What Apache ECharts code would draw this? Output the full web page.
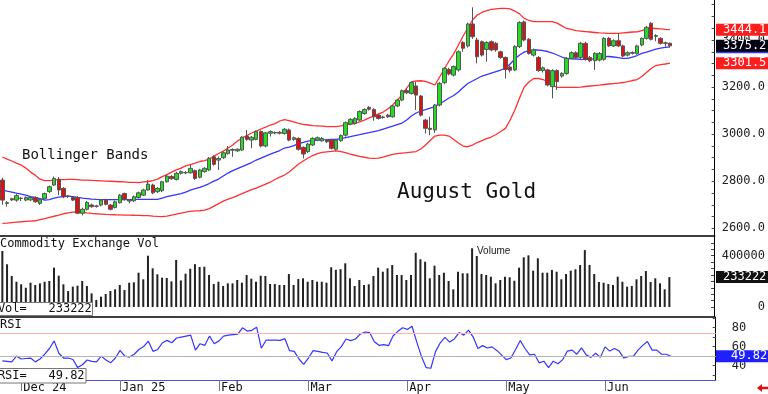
<!DOCTYPE html>
<html><head><meta charset="utf-8">
<script src="https://cdn.jsdelivr.net/npm/echarts@6/dist/echarts.min.js"></script>
<style>html,body{margin:0;padding:0;background:#fff;overflow:hidden}#c{width:768px;height:394px}</style>
</head><body><div id="c"></div>
<script>
// ---------- data ----------
const opens=[2805,2706,2726,2720,2727,2720,2721,2731,2706,2727,2756,2784,2809,2770,2735,2731,2731,2664,2681,2699,2694,2699,2720,2699,2689,2709,2748,2716,2717,2731,2741,2763,2784,2756,2760,2798,2820,2808,2834,2837,2836,2845,2817,2841,2848,2904,2890,2900,2918,2935,2929,2933,2992,2975,2978,3011,2950,3004,3005,3008,3003,3018,2978,2982,2944,2926,2954,2975,2972,2975,2975,2936,2972,2996,3043,3046,3060,3088,3114,3105,3081,3073,3081,3074,3120,3145,3185,3173,3205,3162,3060,3025,3018,3124,3219,3275,3251,3273,3389,3375,3468,3400,3393,3360,3393,3386,3350,3326,3285,3273,3372,3477,3403,3336,3326,3270,3273,3202,3270,3247,3258,3322,3346,3326,3386,3326,3312,3315,3318,3407,3375,3397,3375,3336,3347,3343,3379,3407,3471,3416,3407,3388,3386];
const highs=[2815,2716,2730,2746,2733,2736,2737,2736,2727,2752,2782,2820,2818,2775,2742,2735,2737,2688,2716,2705,2700,2724,2726,2703,2718,2746,2752,2725,2740,2756,2768,2805,2790,2775,2802,2828,2826,2840,2846,2843,2869,2850,2853,2860,2903,2910,2905,2926,2950,2940,2940,2992,3018,2992,3016,3016,3010,3016,3012,3013,3026,3024,2990,2987,2948,2963,2987,2990,2988,2980,2980,2980,2999,3054,3068,3072,3101,3110,3119,3110,3086,3078,3086,3124,3150,3190,3195,3225,3222,3167,3065,3074,3128,3222,3285,3282,3292,3356,3395,3474,3539,3410,3398,3395,3398,3392,3355,3330,3292,3378,3480,3483,3408,3364,3332,3288,3278,3276,3275,3264,3328,3352,3352,3392,3392,3332,3348,3349,3412,3413,3403,3428,3380,3352,3352,3380,3412,3460,3476,3425,3412,3393,3390];
const lows=[2700,2692,2716,2713,2716,2715,2716,2708,2699,2723,2750,2780,2741,2728,2729,2716,2660,2655,2676,2688,2688,2694,2698,2676,2684,2705,2718,2706,2712,2727,2737,2760,2745,2750,2754,2794,2806,2803,2828,2830,2832,2806,2812,2836,2843,2866,2848,2895,2913,2904,2925,2928,2972,2940,2974,2944,2944,2990,3000,2999,2998,2970,2972,2930,2897,2920,2950,2970,2968,2963,2935,2930,2968,2990,3038,3040,3055,3083,3100,3057,3062,3066,3069,3070,3115,3140,3170,3168,3103,3075,3003,2996,3006,3118,3212,3250,3245,3266,3350,3368,3405,3301,3330,3308,3352,3350,3320,3237,3262,3268,3366,3394,3338,3330,3265,3262,3203,3152,3188,3240,3252,3318,3320,3320,3312,3306,3273,3309,3312,3370,3370,3370,3327,3330,3338,3338,3374,3402,3398,3395,3380,3372,3368];
const closes=[2720,2709,2721,2739,2728,2731,2731,2713,2723,2748,2777,2812,2763,2734,2737,2720,2664,2681,2710,2692,2695,2720,2702,2681,2713,2741,2723,2720,2734,2751,2763,2788,2751,2770,2798,2822,2811,2834,2841,2836,2855,2812,2848,2855,2897,2872,2897,2921,2933,2932,2936,2987,2978,2987,3011,2950,3006,3011,3007,3004,3021,2975,2985,2936,2916,2958,2982,2985,2982,2968,2940,2975,2994,3049,3063,3067,3096,3105,3106,3074,3067,3071,3074,3120,3145,3185,3176,3219,3166,3081,3025,3020,3124,3216,3280,3256,3287,3350,3365,3468,3414,3329,3336,3389,3358,3358,3326,3275,3272,3372,3474,3400,3343,3358,3270,3282,3209,3270,3223,3258,3322,3346,3326,3386,3318,3312,3343,3343,3407,3375,3397,3375,3332,3346,3344,3375,3407,3454,3403,3419,3386,3386,3375.2];
const volumes=[436600,333000,241700,197000,177000,150000,189500,171500,184500,197000,202700,306700,244000,177000,124800,158500,166000,202700,163700,106500,54600,80600,101000,124800,137700,171500,132500,189500,192300,267600,216000,400000,301500,255000,228700,226000,200000,366500,207000,260000,298000,334000,312000,314000,249500,179000,197000,163700,184500,184500,210500,189500,249500,220700,197000,244000,241700,179000,179000,171500,171500,257000,171500,218000,223600,197000,210500,197000,197000,189500,309500,290000,295000,340700,223600,163700,210500,171500,177000,241700,306700,275000,301500,327500,249500,249500,210500,249500,423000,372000,353000,223600,322000,249500,267400,202700,138000,275000,262800,262800,457700,397600,257000,249500,236000,184500,210500,236000,231600,205000,306700,387500,403000,283000,379700,267400,267400,288500,275000,216000,257000,283000,294000,327500,444000,327500,257000,195000,189500,179000,171500,236000,197000,158500,163700,216000,241700,280700,195000,223600,184500,138000,233222];
const rsiValues=[45,44.5,44,50,47,47.5,48,44,47,52,58,66,53,48,48,46.5,38,41,46,44.5,44,50,46,43,48,56,50,49,52,57,60,65.7,55,57,64,66.5,64,69,70,71,72,56.3,63,61.3,71,63,66,71,72,72.5,73,79.7,76.3,77,80.3,58.3,66.7,66.7,66.7,66.5,68.3,55.7,55,47,41.3,48,55.7,55,54,53.3,45,54.7,60,68,66.3,68,73,75.3,74.7,65,61.3,62,61,71.3,76,79.7,78,81.3,65,49.7,38,37.3,54.7,64,69.7,64.7,68,74.7,72,77.3,70,58,61,58.5,59.7,56,51.3,46.3,48,57,66.3,58,51.3,52,43,44.7,38,44.7,42,46.3,55.3,56.3,52,58.7,51.3,48.7,53,48.7,59.7,55.3,58,55.3,48,49.7,49.7,56.3,61.3,65.3,56.3,56.3,52,52,49.82];
const bbUpper=[2903,2894,2886,2877,2869,2856,2839,2826,2809,2803,2803,2805,2807,2807,2808,2808,2807,2805,2805,2804,2803,2802,2801,2800,2799,2798,2797,2795,2795,2794,2797,2799,2803,2809,2820,2828,2839,2848,2856,2865,2871,2877,2884,2888,2894,2907,2918,2928,2941,2954,2971,2984,2994,3005,3013,3022,3030,3039,3045,3056,3062,3058,3052,3046,3042,3039,3036,3035,3034,3032,3032,3032,3035,3039,3043,3046,3052,3060,3069,3077,3086,3094,3107,3124,3145,3166,3196,3222,3226,3227,3224,3217,3209,3243,3277,3311,3341,3379,3417,3451,3485,3506,3517,3525,3530,3532,3534,3534,3532,3523,3511,3492,3483,3478,3478,3478,3478,3478,3472,3460,3449,3445,3440,3438,3436,3434,3432,3430,3429,3428,3428,3428,3430,3432,3434,3435,3440,3447,3450,3449,3447,3445,3444.1];
const bbMid=[2762.7,2758.4,2754.2,2749.9,2745.7,2741.4,2735,2731.7,2726.6,2720.2,2722.3,2728.7,2733,2736,2737.2,2735,2731.7,2728.7,2726.6,2724.5,2723.2,2722.3,2722.3,2722.3,2722.3,2722.3,2722.3,2722.3,2722.7,2723.2,2723.2,2723.2,2723.2,2723.2,2728.7,2734.3,2739.3,2743.6,2747.8,2754.2,2762.7,2769,2774.2,2781.8,2790.3,2800.9,2809.4,2822.2,2834.9,2845.5,2854,2862.5,2871,2879.5,2890.2,2898.7,2907.2,2915.7,2922.9,2930.5,2941.1,2945.4,2951.8,2960.3,2965.4,2970.9,2973.9,2975.1,2976,2976.8,2977.7,2978.1,2981.5,2985.8,2990,2994.3,2998.5,3002.8,3007,3011.3,3015.5,3021.9,3028.3,3034.6,3041,3047.4,3060.1,3077.1,3089.9,3098.4,3104.7,3111.1,3117.5,3128.1,3140.9,3153.6,3164.2,3179.1,3198.2,3215.2,3225.8,3236.5,3247.1,3253.5,3259.8,3266.2,3272.6,3279.8,3298.1,3319.3,3336.3,3349,3355.4,3357.5,3357.5,3355.4,3351.2,3344.8,3336.3,3327.8,3322.3,3320.2,3319.3,3318,3318,3318,3321.4,3325.7,3329.1,3330,3327.8,3324.8,3322.3,3322.3,3327.8,3334.2,3343.5,3349,3355.4,3361.8,3366,3368.5,3371];
const bbLower=[2621.2,2622.5,2624.6,2626.7,2628,2629.7,2631,2632.2,2637.3,2641.6,2646.7,2651.4,2656.5,2662,2665.8,2669.2,2670.5,2668.4,2665.8,2663.7,2662,2660.7,2659.4,2658.6,2657.7,2657.3,2656.5,2656.5,2655.6,2655.2,2654.3,2653.9,2652.2,2650.9,2650.1,2652.2,2656.5,2660.7,2664.9,2669.2,2672.2,2674.3,2674.7,2677.7,2684.1,2694.7,2705.3,2715.9,2724.5,2730.8,2739.3,2747.8,2756.3,2764.8,2771.2,2779.7,2788.2,2796.7,2807.3,2817.9,2826.4,2839.2,2856.2,2873.2,2885.9,2898.7,2909.3,2917.8,2922.9,2925,2927.1,2929.3,2926.3,2922,2915.7,2910.5,2905.9,2902,2898.7,2897.4,2898.7,2902.9,2909.3,2914.4,2917.8,2919.9,2922,2924.2,2926.3,2936.9,2953.9,2973,2992.1,2996.4,2996.4,2992.1,2977.3,2962.4,2949.6,2946.7,2953.9,2964.5,2973,2980.7,2987.9,2998.5,3011.3,3024.8,3060.1,3102.6,3153.6,3200.3,3221.6,3236.5,3236.5,3232.2,3221.6,3208.8,3199.1,3199.1,3199.1,3199.1,3199.1,3200.3,3202.5,3204.6,3206.7,3208.8,3211,3213.1,3215.2,3216.5,3219.5,3223.7,3228,3232.2,3245,3262,3279,3291.7,3295.9,3298.1,3301.5];
const priceTicks=[2600,2800,3000,3200,3400];
const volTicks=[0,400000];
const rsiTicks=[40,60,80];
const rsiLevels=[74,50];
const monthNames=['Jan','Feb','Mar','Apr','May','Jun','Jul','Aug','Sep','Oct','Nov','Dec'];
const firstDate='2024-11-25';
const holidays=['2024-11-28','2024-12-25','2025-01-01','2025-01-20','2025-02-17','2025-04-18','2025-05-26','2025-06-19','2025-07-04'];
const SLOTS=152;

// ---------- categories (trading days) ----------
const dates=[];
(function(){
  const d=new Date(firstDate+'T12:00:00Z');
  while(dates.length<SLOTS){
    const s=d.toISOString().slice(0,10);
    const wd=d.getUTCDay();
    if(wd!==0&&wd!==6&&holidays.indexOf(s)<0) dates.push(s);
    d.setUTCDate(d.getUTCDate()+1);
  }
})();
const N=closes.length;
function isMonthStart(i){
  if(i<=0||i>=N) return false;
  return dates[i].slice(0,7)!==dates[i-1].slice(0,7);
}
const candleData=opens.map((o,i)=>[o,closes[i],lows[i],highs[i]]);

const MONO='"DejaVu Sans Mono","Liberation Mono",monospace';
const chart=echarts.init(document.getElementById('c'),null,{renderer:'canvas'});
const gridL=-1.9, gridW=717.6;
const hiddenX=(gi,lineColor,lineW)=>({type:'category',gridIndex:gi,data:dates,boundaryGap:true,
  axisLine:{show:true,onZero:false,lineStyle:{color:lineColor,width:lineW}},axisTick:{show:false},axisLabel:{show:false},splitLine:{show:false}});

const option={
  animation:false,
  backgroundColor:'#ffffff',
  grid:[
    {left:gridL,width:gridW,top:0,height:236},
    {left:gridL,width:gridW,top:236,height:81},
    {left:gridL,width:gridW,top:317,height:66}
  ],
  xAxis:[
    hiddenX(0,'#000',1.5),
    hiddenX(1,'#000',1.5),
    {type:'category',gridIndex:2,data:dates,boundaryGap:true,
     axisLine:{show:true,onZero:false,lineStyle:{color:'#5050d8',width:1.2}},
     axisTick:{show:true,alignWithLabel:true,interval:(i)=>isMonthStart(i),length:11,lineStyle:{color:'#777',width:1}},
     axisLabel:{show:true,interval:(i)=>isMonthStart(i),align:'left',verticalAlign:'top',margin:2,padding:[0,0,0,2],
       fontFamily:MONO,fontSize:12,color:'#111',
       formatter:(v)=>{const m=+v.slice(5,7);return (m===12||m===1)?monthNames[m-1]+' '+v.slice(2,4):monthNames[m-1];}},
     splitLine:{show:false}}
  ],
  yAxis:[
    {type:'value',gridIndex:0,position:'right',min:2567.5,max:3570,scale:true,
     axisLine:{show:true,lineStyle:{color:'#000',width:1}},
     axisTick:{show:true,inside:true,length:3,customValues:[2600,2650,2700,2750,2800,2850,2900,2950,3000,3050,3100,3150,3200,3250,3300,3350,3400,3450,3500,3550],lineStyle:{color:'#444'}},
     axisLabel:{show:true,customValues:priceTicks,margin:7,align:'left',fontFamily:MONO,fontSize:12,color:'#222',formatter:(v)=>v.toFixed(1)},
     splitLine:{show:false}},
    {type:'value',gridIndex:1,position:'right',min:-78000,max:553600,
     axisLine:{show:true,lineStyle:{color:'#000',width:1}},
     axisTick:{show:true,inside:true,length:3,customValues:[0,50000,100000,150000,200000,250000,300000,350000,400000,450000,500000],lineStyle:{color:'#444'}},
     axisLabel:{show:true,customValues:volTicks,margin:51,align:'right',fontFamily:MONO,fontSize:12,color:'#222',formatter:(v)=>String(v)},
     splitLine:{show:false}},
    {type:'value',gridIndex:2,position:'right',min:25,max:91,
     axisLine:{show:true,lineStyle:{color:'#000',width:1}},
     axisTick:{show:true,inside:true,length:3,customValues:[30,40,50,60,70,80,90],lineStyle:{color:'#444'}},
     axisLabel:{show:true,customValues:rsiTicks,margin:16,align:'left',fontFamily:MONO,fontSize:12,color:'#222'},
     splitLine:{show:false}}
  ],
  series:[
    {type:'line',name:'upper',xAxisIndex:0,yAxisIndex:0,data:bbUpper,symbol:'none',lineStyle:{color:'#ff3030',width:1.3},z:2},
    {type:'line',name:'mid',xAxisIndex:0,yAxisIndex:0,data:bbMid,symbol:'none',lineStyle:{color:'#3535ff',width:1.3},z:2},
    {type:'line',name:'lower',xAxisIndex:0,yAxisIndex:0,data:bbLower,symbol:'none',lineStyle:{color:'#ff3030',width:1.3},z:2},
    {type:'candlestick',name:'price',xAxisIndex:0,yAxisIndex:0,data:candleData,barWidth:4,z:3,
     itemStyle:{color:'#22dd22',color0:'#dd1111',borderColor:'#555',borderColor0:'#555',borderWidth:1}},
    {type:'bar',name:'vol',xAxisIndex:1,yAxisIndex:1,data:volumes,barWidth:2,itemStyle:{color:'#222'},z:2},
    {type:'line',name:'rsi',xAxisIndex:2,yAxisIndex:2,data:rsiValues,symbol:'none',lineStyle:{color:'#3535ff',width:1.2},z:3,
     markLine:{silent:true,symbol:'none',label:{show:false},
       data:[{yAxis:rsiLevels[0],lineStyle:{color:'#ffb4b4',width:1,type:'solid'}},{yAxis:rsiLevels[1],lineStyle:{color:'#b4b4b4',width:1,type:'solid'}}]}}
  ]
};
chart.setOption(option);

// ---------- value boxes and texts ----------
const last=N-1;
function yOf(axis,v){return chart.convertToPixel({yAxisIndex:axis},v);}
let zc=100;
function valueBox(axis,v,bg,txt,tx){
  const y=yOf(axis,v);
  const out=[{type:'rect',shape:{x:716,y:y-6,width:60,height:12},style:{fill:bg},z:zc++}];
  if(txt) out.push({type:'text',x:tx,y:y,style:{text:txt,fill:'#fff',font:'12px '+MONO,textVerticalAlign:'middle'},z:zc++});
  return out;
}
const g=[];
g.push(...valueBox(0,bbMid[last]-2,'#3535ff','',723));
g.push(...valueBox(0,bbUpper[last],'#ff1c1c',bbUpper[last].toFixed(1),723));
g.push(...valueBox(0,closes[last],'#000010',closes[last].toFixed(1),723));
g.push(...valueBox(0,bbLower[last],'#ff1c1c',bbLower[last].toFixed(1),723));
g.push(...valueBox(1,volumes[last],'#111',String(volumes[last]),723));
g.push(...valueBox(2,rsiValues[last],'#2020ff',rsiValues[last].toFixed(2),731));
// left info boxes
g.push({type:'rect',shape:{x:-1,y:302.5,width:93.5,height:13},style:{fill:'#fff',stroke:'#777',lineWidth:1},z:100});
g.push({type:'text',x:-2.1,y:309.2,style:{text:'Vol=   '+volumes[last],fill:'#111',font:'12px '+MONO,textVerticalAlign:'middle'},z:101});
g.push({type:'rect',shape:{x:-1,y:368.5,width:87,height:14.5},style:{fill:'#fff',stroke:'#777',lineWidth:1},z:100});
g.push({type:'text',x:-2.1,y:375.8,style:{text:'RSI=   '+rsiValues[last].toFixed(2),fill:'#111',font:'12px '+MONO,textVerticalAlign:'middle'},z:101});
// titles
g.push({type:'text',x:22,y:155.5,style:{text:'Bollinger Bands',fill:'#111',font:'14px '+MONO,textVerticalAlign:'middle'},z:50});
g.push({type:'text',x:397,y:192.5,style:{text:'August Gold',fill:'#111',font:'21px '+MONO,textVerticalAlign:'middle'},z:50});
g.push({type:'text',x:0,y:243.5,style:{text:'Commodity Exchange Vol',fill:'#111',font:'12px '+MONO,textVerticalAlign:'middle'},z:50});
g.push({type:'text',x:477,y:251.5,style:{text:'Volume',fill:'#222',font:'10px "Liberation Sans",Arial,sans-serif',textVerticalAlign:'middle'},z:50});
g.push({type:'text',x:0,y:325,style:{text:'RSI',fill:'#111',font:'12px '+MONO,textVerticalAlign:'middle'},z:50});
// small red arrow bottom-right
g.push({type:'polygon',shape:{points:[[757,388],[762,384],[762,386.7],[768,386.7],[768,389.3],[762,389.3],[762,392]]},style:{fill:'#e01010'},z:50});
chart.setOption({graphic:g});
</script>
</body></html>
